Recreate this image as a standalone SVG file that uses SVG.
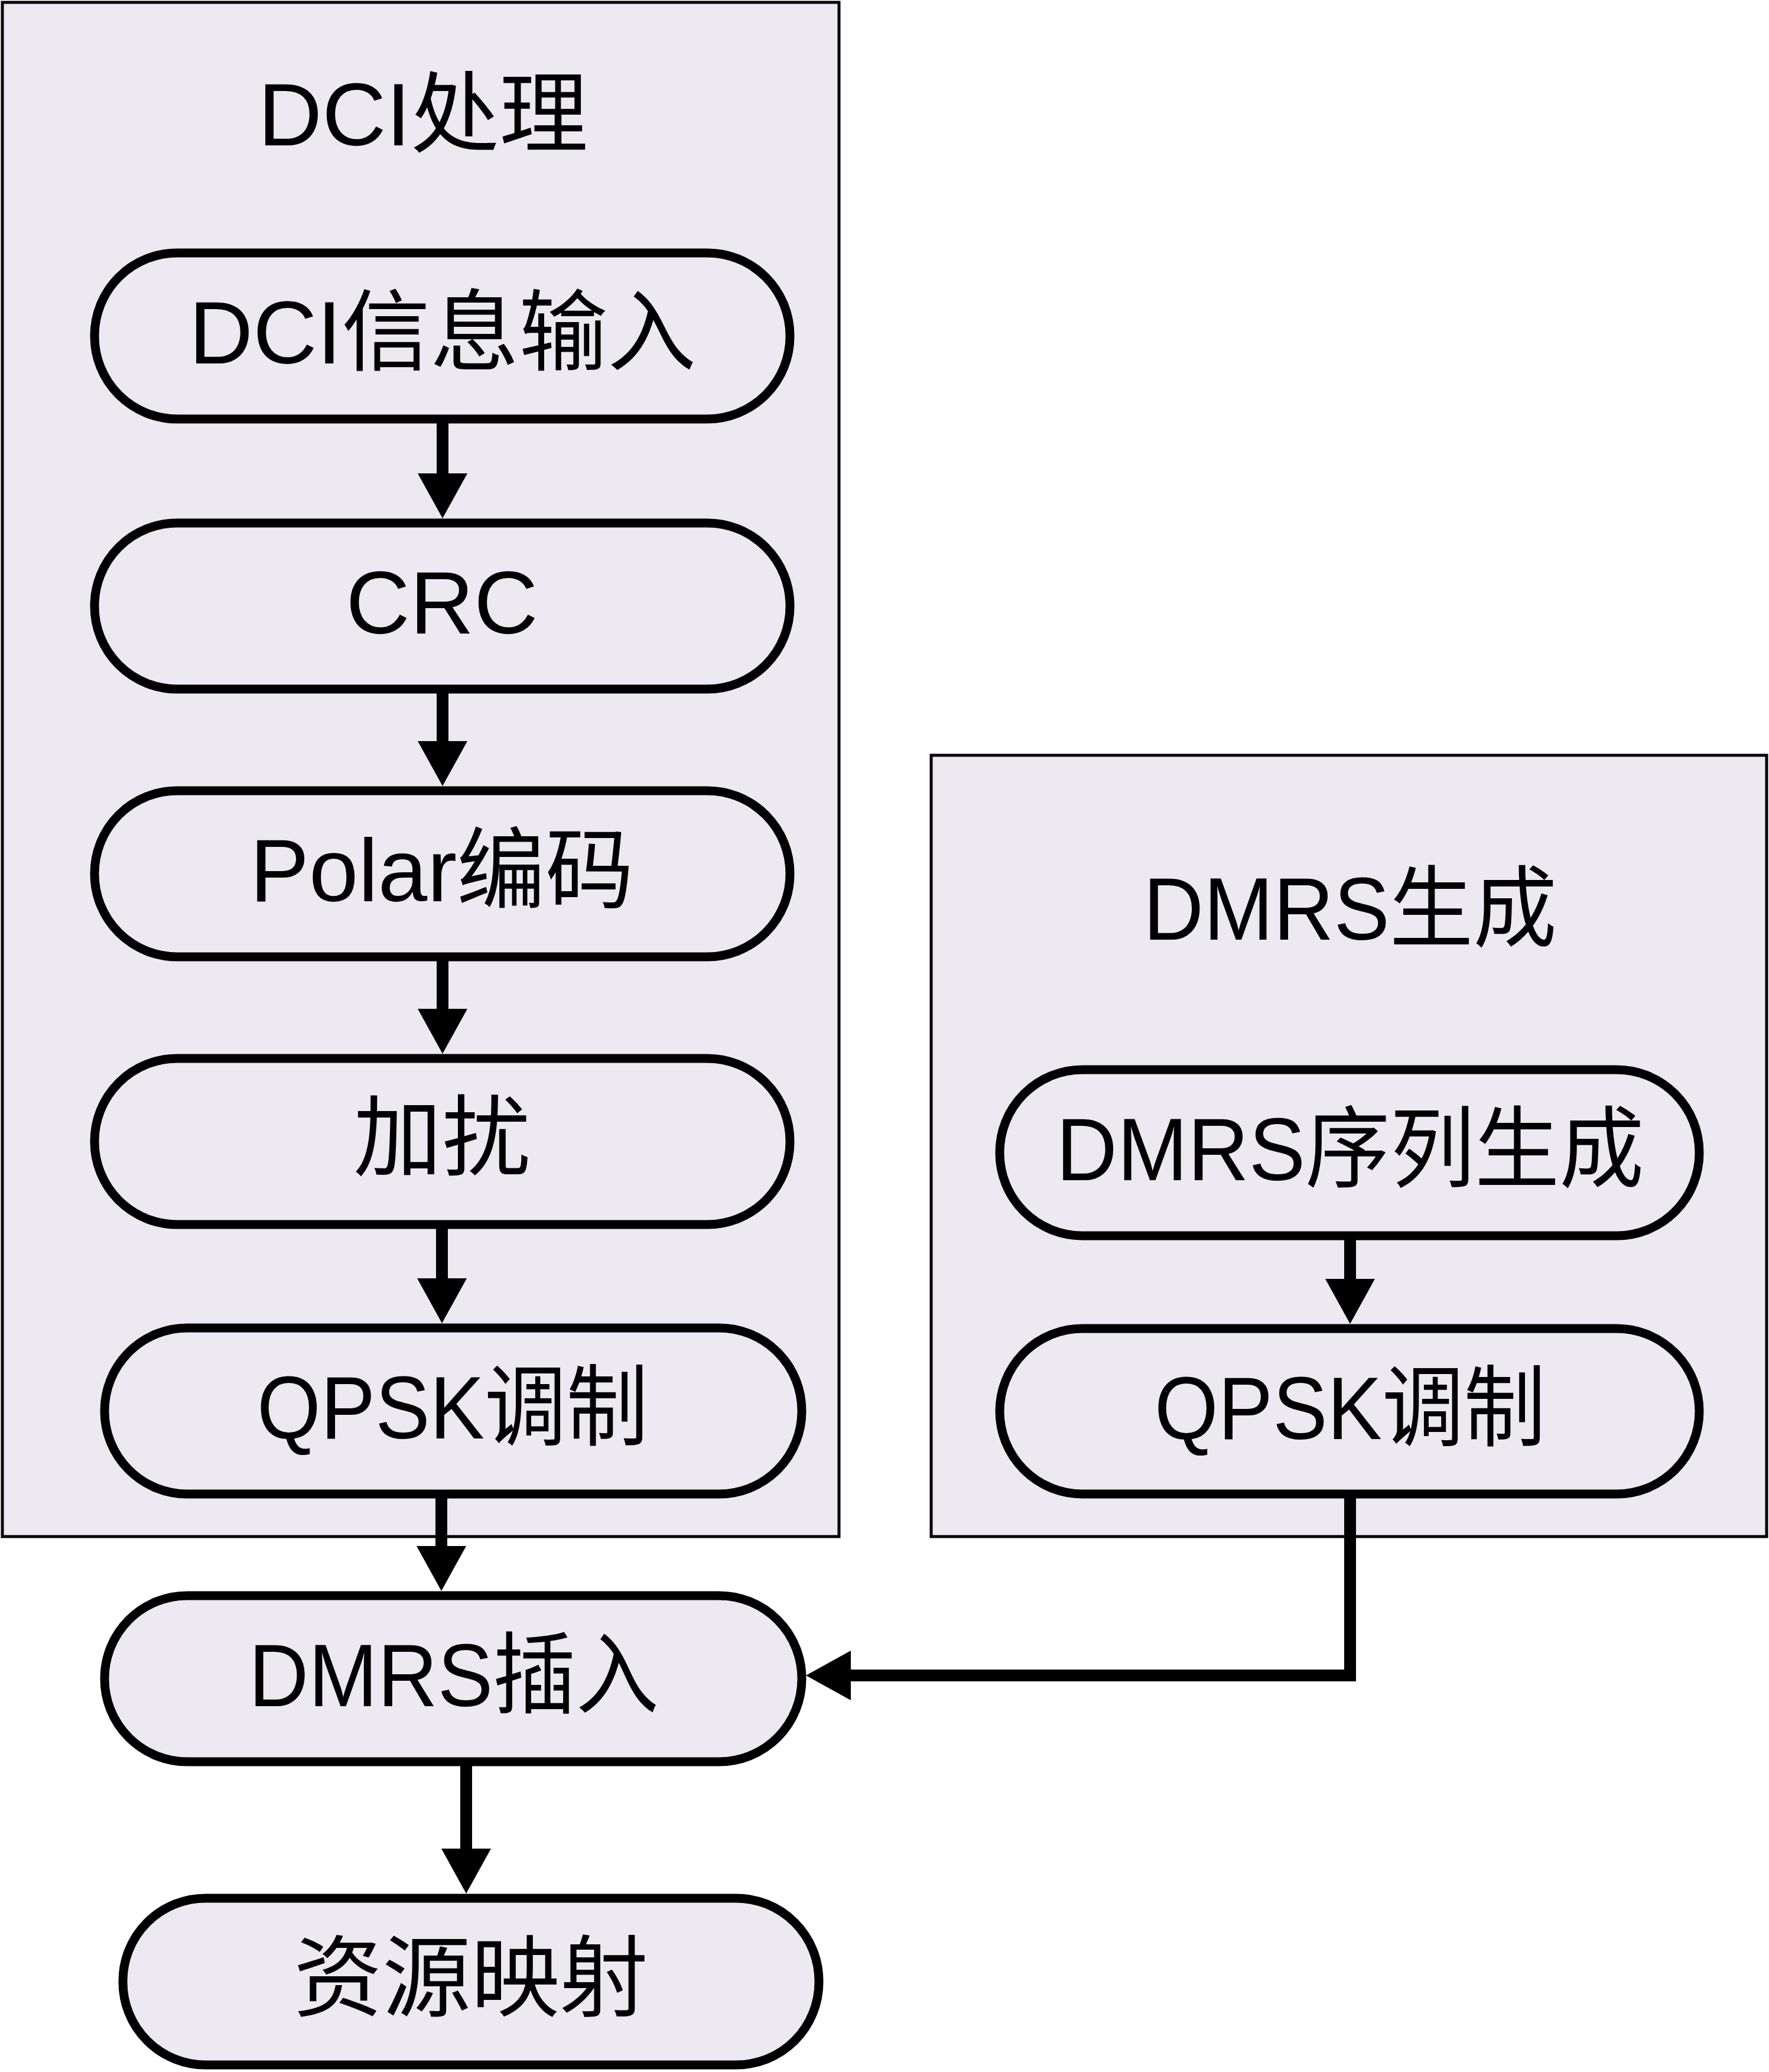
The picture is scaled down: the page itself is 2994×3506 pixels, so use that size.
<svg xmlns="http://www.w3.org/2000/svg" width="2994" height="3506" viewBox="0 0 2994 3506">
<defs>
<style>
.bg{fill:#fff}
.grp{fill:#ECE9F0;stroke:#000;stroke-width:5}
.node{fill:#ECE9F0;stroke:#000;stroke-width:15}
.lbl{font-family:"Liberation Sans","Noto Sans CJK SC",sans-serif;font-size:150px;fill:#000;text-anchor:middle}
.conn{fill:none;stroke:#000;stroke-width:20;stroke-linejoin:miter}
</style>
<marker id="ah" markerUnits="userSpaceOnUse" markerWidth="78" markerHeight="86" refX="0" refY="43" orient="auto" viewBox="0 0 78 86">
<path d="M0,1 L76,43 L0,85 Z" fill="#000"/>
</marker>
</defs>
<rect class="bg" x="0" y="0" width="2994" height="3506"/>
<g id="group-dci">
<rect class="grp" x="4" y="4" width="1416" height="2596"/>
<text class="lbl" x="716" y="246">DCI处理</text>
</g>
<g id="group-dmrs">
<rect class="grp" x="1576" y="1278" width="1414" height="1322"/>
<text class="lbl" x="2285" y="1590" textLength="700" lengthAdjust="spacingAndGlyphs">DMRS生成</text>
</g>
<g id="n1">
<rect class="node" x="160" y="428" width="1177" height="281" rx="140" ry="140"/>
<text class="lbl" x="749" y="615">DCI信息输入</text>
</g>
<g id="n2">
<rect class="node" x="160" y="885" width="1177" height="281" rx="140" ry="140"/>
<text class="lbl" x="748" y="1072">CRC</text>
</g>
<g id="n3">
<rect class="node" x="160" y="1338" width="1177" height="281" rx="140" ry="140"/>
<text class="lbl" x="748" y="1525">Polar编码</text>
</g>
<g id="n4">
<rect class="node" x="160" y="1791" width="1177" height="281" rx="140" ry="140"/>
<text class="lbl" x="748" y="1978">加扰</text>
</g>
<g id="n5">
<rect class="node" x="177" y="2247" width="1180" height="281" rx="140" ry="140"/>
<text class="lbl" x="766" y="2434" textLength="662" lengthAdjust="spacingAndGlyphs">QPSK调制</text>
</g>
<g id="n6">
<rect class="node" x="177" y="2700" width="1180" height="281" rx="140" ry="140"/>
<text class="lbl" x="768" y="2887" textLength="694" lengthAdjust="spacingAndGlyphs">DMRS插入</text>
</g>
<g id="n7">
<rect class="node" x="208" y="3212" width="1178" height="282" rx="140" ry="140"/>
<text class="lbl" x="797" y="3400">资源映射</text>
</g>
<g id="n8">
<rect class="node" x="1692" y="1810" width="1184" height="281" rx="140" ry="140"/>
<text class="lbl" x="2285" y="1997" textLength="995" lengthAdjust="spacingAndGlyphs">DMRS序列生成</text>
</g>
<g id="n9">
<rect class="node" x="1692" y="2248" width="1184" height="280" rx="140" ry="140"/>
<text class="lbl" x="2285" y="2435" textLength="662" lengthAdjust="spacingAndGlyphs">QPSK调制</text>
</g>
<g id="connectors">
<path class="conn" d="M749,709 V801" marker-end="url(#ah)"/>
<path class="conn" d="M749,1166 V1254" marker-end="url(#ah)"/>
<path class="conn" d="M749,1619 V1707" marker-end="url(#ah)"/>
<path class="conn" d="M748,2072 V2163" marker-end="url(#ah)"/>
<path class="conn" d="M747,2528 V2616" marker-end="url(#ah)"/>
<path class="conn" d="M789,2981 V3128" marker-end="url(#ah)"/>
<path class="conn" d="M2285,2091 V2164" marker-end="url(#ah)"/>
<path class="conn" d="M2285,2528 V2835 H1440" marker-end="url(#ah)"/>
</g>
</svg>
